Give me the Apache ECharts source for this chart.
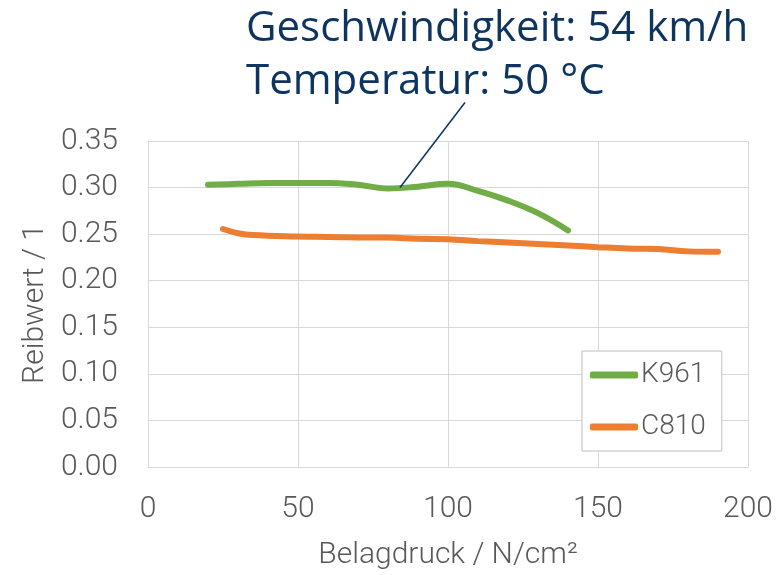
<!DOCTYPE html>
<html><head><meta charset="utf-8">
<script src="https://cdn.jsdelivr.net/npm/echarts@6/dist/echarts.min.js"></script>
<style>html,body{margin:0;padding:0;background:#fff}#c{width:777px;height:575px}</style>
</head><body><div id="c"></div>
<script>
const titleLines = ['Geschwindigkeit: 54 km/h', 'Temperatur: 50 °C'];
const xTicks = [0, 50, 100, 150, 200];
const yTicks = [0, 0.05, 0.10, 0.15, 0.20, 0.25, 0.30, 0.35];
const k961X = [20, 30, 40, 50, 60, 70, 80, 90, 100, 110, 120, 130, 140];
const k961Y = [0.303, 0.304, 0.305, 0.305, 0.305, 0.303, 0.299, 0.301, 0.304, 0.2965, 0.286, 0.2725, 0.254];
const c810X = [25, 30, 35, 50, 60, 70, 80, 90, 100, 110, 120, 130, 140, 150, 160, 170, 180, 190];
const c810Y = [0.2555, 0.251, 0.249, 0.2475, 0.247, 0.2465, 0.2463, 0.245, 0.2445, 0.2425, 0.241, 0.2395, 0.2378, 0.236, 0.2345, 0.234, 0.2315, 0.231];
const calloutPoint = [84, 0.300];

const zip = (xs, ys) => xs.map((x, i) => [x, ys[i]]);
const font = 'Roboto';
const grey = '#595959';
const chart = echarts.init(document.getElementById('c'));
chart.setOption({
  animation: false,
  backgroundColor: '#fff',
  title: {
    text: titleLines.join('\n'),
    left: 241, top: -2,
    textStyle: { fontFamily: 'Open Sans', fontSize: 42, fontWeight: 'normal', color: '#0E3460', lineHeight: 53 }
  },
  grid: { left: 148, right: 29, top: 141, bottom: 108 },
  xAxis: {
    type: 'value', min: xTicks[0], max: xTicks[xTicks.length - 1], interval: 50,
    name: 'Belagdruck / N/cm²', nameLocation: 'middle', nameGap: 73,
    nameTextStyle: { fontFamily: font, fontSize: 30, color: grey, fontWeight: 300 },
    axisLine: { show: true, lineStyle: { color: '#d9d9d9', width: 1 } },
    axisTick: { show: false },
    splitLine: { show: true, lineStyle: { color: '#d9d9d9', width: 1 } },
    axisLabel: { fontFamily: font, fontSize: 30, color: grey, margin: 27, fontWeight: 300 }
  },
  yAxis: {
    type: 'value', min: yTicks[0], max: yTicks[yTicks.length - 1], interval: 0.05,
    name: 'Reibwert / 1', nameLocation: 'middle', nameGap: 98, nameRotate: 90,
    nameTextStyle: { fontFamily: font, fontSize: 30, color: grey, fontWeight: 300 },
    axisLine: { show: true, lineStyle: { color: '#d9d9d9', width: 1 } },
    axisTick: { show: false },
    splitLine: { show: true, lineStyle: { color: '#d9d9d9', width: 1 } },
    axisLabel: { fontFamily: font, fontSize: 30, color: grey, margin: 30, fontWeight: 300, formatter: v => v.toFixed(2) }
  },
  legend: {
    orient: 'vertical', left: 582, top: 351,
    padding: [9, 16, 9, 8], itemGap: 22,
    itemWidth: 48, itemHeight: 7, itemStyle: { borderWidth: 0 },
    icon: 'roundRect',
    backgroundColor: '#fff', borderColor: '#bfbfbf', borderWidth: 1, borderRadius: 0,
    textStyle: { fontFamily: font, fontSize: 28, color: grey, fontWeight: 300, padding: [0, 0, 0, -2], lineHeight: 30 },
    data: ['K961', 'C810']
  },
  series: [
    { name: 'K961', type: 'line', smooth: 0.4, showSymbol: false, data: zip(k961X, k961Y),
      lineStyle: { color: '#70AD47', width: 6, cap: 'round' }, itemStyle: { color: '#70AD47' } },
    { name: 'C810', type: 'line', smooth: 0.4, showSymbol: false, data: zip(c810X, c810Y),
      lineStyle: { color: '#ED7D31', width: 6, cap: 'round' }, itemStyle: { color: '#ED7D31' } }
  ]
});
const p = chart.convertToPixel({ gridIndex: 0 }, calloutPoint);
chart.setOption({
  graphic: [{ type: 'line', shape: { x1: p[0], y1: p[1], x2: p[0] + 65, y2: p[1] - 85 },
    style: { stroke: '#0E3460', lineWidth: 1.5 }, z: 10 }]
});
</script></body></html>
